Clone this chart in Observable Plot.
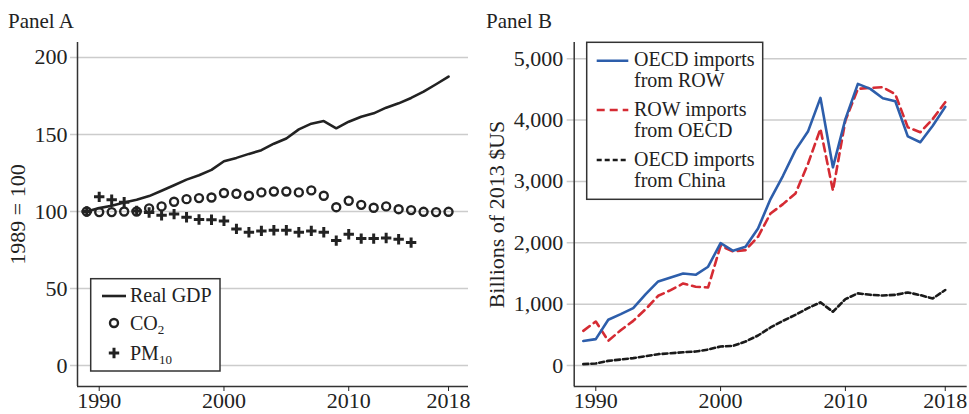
<!DOCTYPE html>
<html><head><meta charset="utf-8">
<script src="https://cdn.jsdelivr.net/npm/d3@7"></script>
<script src="https://cdn.jsdelivr.net/npm/@observablehq/plot@0.6"></script>
<style>
body{margin:0;background:#fff;}
#wrap{position:relative;width:969px;height:414px;overflow:hidden;font-family:'Liberation Serif',serif;background:#fff;}
#a,#b{position:absolute;top:0;}
#a{left:0}#b{left:484px}
#ov{position:absolute;left:0;top:0;pointer-events:none}
</style></head><body>
<div id="wrap"><div id="a"></div><div id="b"></div><svg id="ov" width="969" height="414" xmlns="http://www.w3.org/2000/svg"></svg></div>
<script>
// ---- Data ----
const years = [1989,1990,1991,1992,1993,1994,1995,1996,1997,1998,1999,2000,2001,2002,2003,2004,2005,2006,2007,2008,2009,2010,2011,2012,2013,2014,2015,2016,2017,2018];
const gdpIndex = [100,102.2,103.7,105.9,107.6,110,113.5,117,120.7,123.5,127,132.6,134.8,137.4,139.8,144,147.4,153.3,157,158.7,154,158.3,161.5,163.7,167.4,170.2,173.7,177.8,182.6,187.6];
const co2Index = [100,99.6,99.6,100,100,102,103.3,106.3,108,108.7,109.1,112,111.5,110.2,112.4,113,113,112.4,113.7,110.2,102.8,107,104.3,102.4,103.3,101.5,100.9,99.8,99.6,99.8];
const pm10Years = [1989,1990,1991,1992,1993,1994,1995,1996,1997,1998,1999,2000,2001,2002,2003,2004,2005,2006,2007,2008,2009,2010,2011,2012,2013,2014,2015];
const pm10Index = [100,109.5,107.6,106,100.4,99.3,97.6,98.3,96.3,94.8,94.6,93.9,88.7,86.5,87.4,87.8,87.8,86.5,87.4,86.5,81.1,85.2,82.4,82.4,82.8,82,79.8];
const oecdFromRow = [400,430,745,837,935,1163,1370,1435,1500,1478,1610,1995,1870,1935,2234,2712,3092,3510,3812,4362,3230,4016,4590,4508,4356,4307,3735,3638,3908,4215];
const rowFromOecd = [565,717,402,576,728,918,1136,1228,1337,1283,1272,1951,1859,1880,2098,2478,2630,2804,3285,3857,2850,3992,4508,4525,4536,4420,3883,3801,4019,4291];
const oecdFromChina = [22,33,76,98,120,152,185,200,217,228,260,310,320,391,489,620,728,826,935,1029,876,1082,1175,1152,1141,1152,1191,1147,1093,1230];
const xTicks = [1990,2000,2010,2018];
const yTicksA = [0,50,100,150,200];
const yTicksB = [0,1000,2000,3000,4000,5000];

const INK = "#222";
const BLUE = "#2d5eab";
const RED = "#d52b33";
const GRID = "#cccccc";
const FONT = "'Liberation Serif', serif";

const gdpRows = years.map((year,i)=>({year, value:gdpIndex[i]}));
const co2Rows = years.map((year,i)=>({year, value:co2Index[i]}));
const pmRows = pm10Years.map((year,i)=>({year, value:pm10Index[i]}));
const rowRows = years.map((year,i)=>({year, value:oecdFromRow[i]}));
const oecdRows = years.map((year,i)=>({year, value:rowFromOecd[i]}));
const chinaRows = years.map((year,i)=>({year, value:oecdFromChina[i]}));

const plusSymbol = {draw(ctx){const h=5.2;ctx.moveTo(-h,0);ctx.lineTo(h,0);ctx.moveTo(0,-h);ctx.lineTo(0,h);}};

const xDomA = [1988.26, 2019.6];
const yDomA = [-13.6, 209.7];
const chartA = Plot.plot({
  width: 484, height: 414,
  marginLeft: 77, marginRight: 16, marginTop: 42, marginBottom: 28,
  style: {fontFamily: FONT, fontSize: "22px", color: INK, background: "transparent", overflow: "visible"},
  x: {domain: xDomA, label: null},
  y: {domain: yDomA, label: null},
  marks: [
    Plot.ruleY(yTicksA, {stroke: GRID, strokeWidth: 1.5, insetLeft: -7}),
    Plot.ruleX([xDomA[0]], {stroke: "#333", strokeWidth: 1.5}),
    Plot.ruleY([yDomA[0]], {stroke: "#333", strokeWidth: 1.5}),
    Plot.axisY({ticks: yTicksA, tickSize: 0, tickPadding: 10, label: "1989 = 100", labelAnchor: "center", labelOffset: 68, labelArrow: "none", fontSize: 22}),
    Plot.axisX({ticks: xTicks, tickSize: 5, tickPadding: 1, tickFormat: d => String(d), label: null, fontSize: 22}),
    Plot.line(gdpRows, {x: "year", y: "value", stroke: INK, strokeWidth: 2.6}),
    Plot.dot(co2Rows, {x: "year", y: "value", r: 4, fill: "none", stroke: INK, strokeWidth: 2.4}),
    Plot.dot(pmRows, {x: "year", y: "value", symbol: plusSymbol, fill: "none", stroke: INK, strokeWidth: 3})
  ]
});
document.getElementById("a").appendChild(chartA);

const xDomB = [1988.27, 2019.76];
const yDomB = [-342, 5264];
const chartB = Plot.plot({
  width: 485, height: 414,
  marginLeft: 89.7, marginRight: 2.3, marginTop: 42, marginBottom: 28,
  style: {fontFamily: FONT, fontSize: "22px", color: INK, background: "transparent", overflow: "visible"},
  x: {domain: xDomB, label: null},
  y: {domain: yDomB, label: null},
  marks: [
    Plot.ruleY(yTicksB, {stroke: GRID, strokeWidth: 1.5, insetLeft: -7}),
    Plot.ruleX([xDomB[0]], {stroke: "#333", strokeWidth: 1.5}),
    Plot.ruleY([yDomB[0]], {stroke: "#333", strokeWidth: 1.5}),
    Plot.axisY({ticks: yTicksB, tickSize: 0, tickPadding: 11, tickFormat: d3.format(","), label: "Billions of 2013 $US", labelAnchor: "center", labelOffset: 86, labelArrow: "none", fontSize: 22}),
    Plot.axisX({ticks: xTicks, tickSize: 5, tickPadding: 1, tickFormat: d => String(d), label: null, fontSize: 22}),
    Plot.line(chinaRows, {x: "year", y: "value", stroke: "#1a1a1a", strokeWidth: 2.6, strokeDasharray: "5,3"}),
    Plot.line(oecdRows, {x: "year", y: "value", stroke: RED, strokeWidth: 2.6, strokeDasharray: "8,5"}),
    Plot.line(rowRows, {x: "year", y: "value", stroke: BLUE, strokeWidth: 2.6})
  ]
});
document.getElementById("b").appendChild(chartB);

// ---- Titles and legends (overlay) ----
const ov = document.getElementById("ov");
ov.innerHTML = `
<g font-family="${FONT}" fill="${INK}">
  <text x="8" y="28" font-size="21">Panel A</text>
  <text x="486" y="28" font-size="21">Panel B</text>

  <rect x="90.7" y="278.7" width="129.3" height="92.3" fill="#fff" stroke="#333" stroke-width="1.5"/>
  <line x1="102" x2="126" y1="296" y2="296" stroke="${INK}" stroke-width="2.6"/>
  <text x="130" y="302" font-size="20">Real GDP</text>
  <circle cx="114" cy="323" r="4" fill="none" stroke="${INK}" stroke-width="2.4"/>
  <text x="130" y="330" font-size="20">CO<tspan font-size="13" dy="4">2</tspan></text>
  <path d="M108.8,353H119.2M114,347.8V358.2" stroke="${INK}" stroke-width="3" fill="none"/>
  <text x="130" y="360" font-size="20">PM<tspan font-size="13" dy="4">10</tspan></text>

  <rect x="586.7" y="42.3" width="176" height="157" fill="#fff" stroke="#333" stroke-width="1.5"/>
  <line x1="596.7" x2="628.3" y1="60.7" y2="60.7" stroke="${BLUE}" stroke-width="2.6"/>
  <text x="634" y="66" font-size="20">OECD imports</text>
  <text x="634" y="87" font-size="20">from ROW</text>
  <line x1="596.7" x2="628.3" y1="110" y2="110" stroke="${RED}" stroke-width="2.6" stroke-dasharray="8,5"/>
  <text x="634" y="116" font-size="20">ROW imports</text>
  <text x="634" y="137" font-size="20">from OECD</text>
  <line x1="596.7" x2="628.3" y1="160" y2="160" stroke="#1a1a1a" stroke-width="2.6" stroke-dasharray="5,3"/>
  <text x="634" y="166" font-size="20">OECD imports</text>
  <text x="634" y="187" font-size="20">from China</text>
</g>`;
</script>
</body></html>
